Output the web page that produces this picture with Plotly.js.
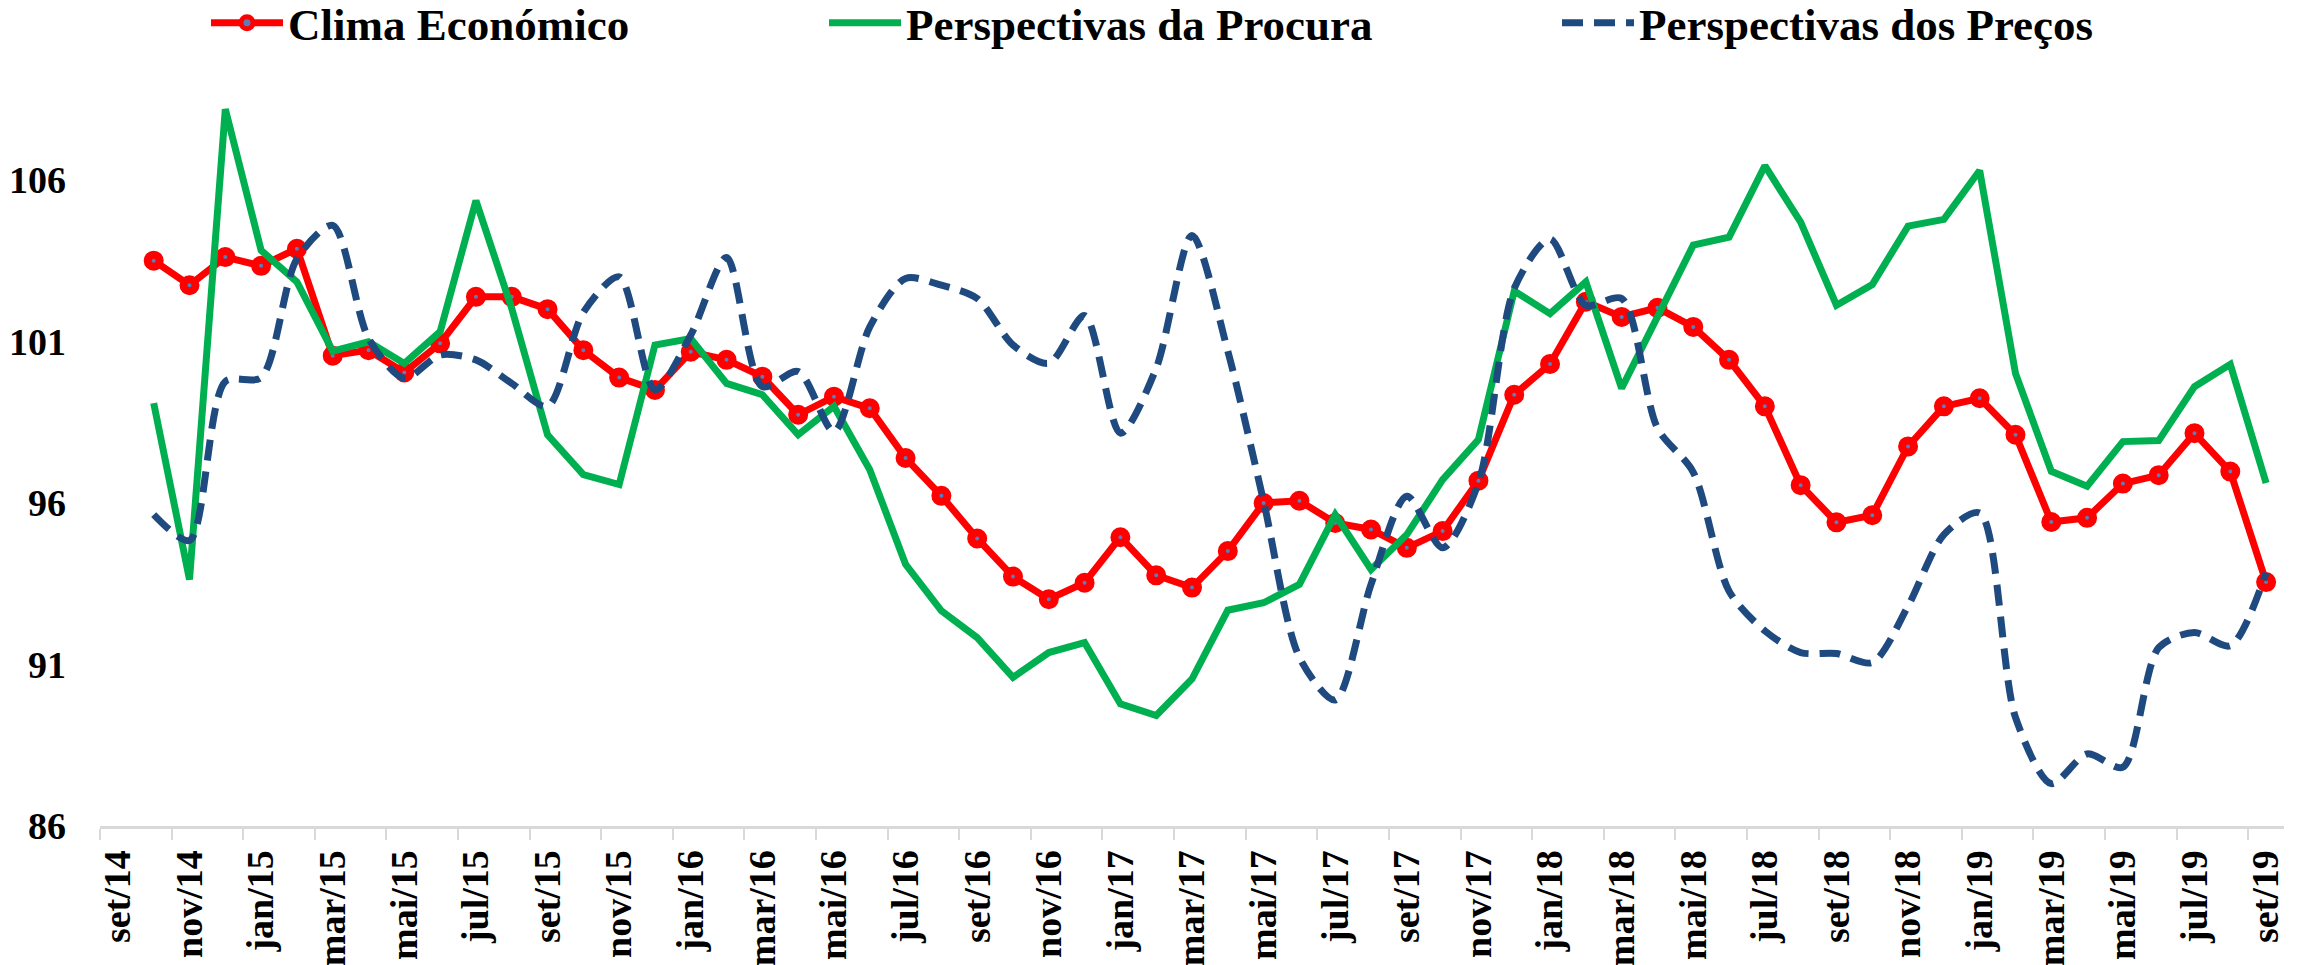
<!DOCTYPE html>
<html><head><meta charset="utf-8">
<script src="https://cdn.plot.ly/plotly-3.0.1.min.js"></script>
<style>html,body{margin:0;padding:0;background:#fff}</style>
</head><body>
<div id="chart" style="width:2310px;height:965px"></div>
<script>
const months = [
  'set/14','out/14','nov/14','dez/14',
  'jan/15','fev/15','mar/15','abr/15','mai/15','jun/15','jul/15','ago/15','set/15','out/15','nov/15','dez/15',
  'jan/16','fev/16','mar/16','abr/16','mai/16','jun/16','jul/16','ago/16','set/16','out/16','nov/16','dez/16',
  'jan/17','fev/17','mar/17','abr/17','mai/17','jun/17','jul/17','ago/17','set/17','out/17','nov/17','dez/17',
  'jan/18','fev/18','mar/18','abr/18','mai/18','jun/18','jul/18','ago/18','set/18','out/18','nov/18','dez/18',
  'jan/19','fev/19','mar/19','abr/19','mai/19','jun/19','jul/19','ago/19','set/19'
];
const climaEconomico = [null,
  103.5,102.74,103.61,103.34,103.87,100.56,100.73,100.04,100.94,102.38,
  102.38,102.0,100.73,99.88,99.5,100.68,100.43,99.91,98.73,99.29,
  98.93,97.39,96.22,94.9,93.72,93.02,93.53,94.94,93.76,93.38,
  94.51,96.0,96.07,95.38,95.18,94.61,95.13,96.69,99.35,100.3,
  102.23,101.76,102.04,101.45,100.43,98.99,96.55,95.4,95.62,97.75,
  98.99,99.24,98.11,95.41,95.54,96.6,96.86,98.16,96.97,93.55];
const perspProcura = [null,
  99.09,93.63,108.19,103.82,102.84,100.7,100.99,100.32,101.3,105.36,
  102.02,98.11,96.88,96.57,100.89,101.09,99.7,99.35,98.11,98.99,
  97.03,94.1,92.66,91.83,90.6,91.37,91.68,89.78,89.42,90.55,
  92.68,92.91,93.48,95.64,93.94,95.02,96.72,97.96,102.56,101.86,
  102.84,99.55,101.76,103.98,104.23,106.44,104.69,102.12,102.76,104.57,
  104.78,106.29,100.01,96.98,96.52,97.9,97.93,99.6,100.29,96.62];
const perspPrecos = [null,
  95.64,94.84,99.76,99.88,103.56,104.59,101.1,99.86,100.58,100.43,
  99.7,98.99,101.9,103.0,99.5,101.2,103.6,99.6,100.07,98.21,
  101.45,102.95,102.74,102.33,100.89,100.32,101.8,98.16,100.17,104.28,
  100.7,96.05,91.22,89.9,93.48,96.21,94.61,96.62,102.64,104.17,
  102.12,102.33,98.32,96.95,93.27,92.04,91.37,91.34,91.06,92.81,
  95.02,95.69,89.36,87.31,88.23,87.82,91.52,91.99,91.58,93.84];
const yTicks = [86, 91, 96, 101, 106];

const serif = 'Liberation Serif, Times New Roman, serif';
const traces = [
  {x: months, y: climaEconomico, name: 'Clima Económico', type: 'scatter', mode: 'lines+markers',
   line: {color: '#FF0000', width: 7},
   marker: {symbol: 'circle', size: 12, color: '#5B7DBA', line: {color: '#FF0000', width: 8}},
   legend: 'legend'},
  {x: months, y: perspProcura, name: 'Perspectivas da Procura', type: 'scatter', mode: 'lines',
   line: {color: '#00B050', width: 7}, legend: 'legend2'},
  {x: months, y: perspPrecos, name: 'Perspectivas dos Preços', type: 'scatter', mode: 'lines',
   line: {color: '#1F4A80', width: 7, dash: '21px,11px', shape: 'spline', smoothing: 0.8}, legend: 'legend3'}
];
const legFont = {family: serif, size: 45, weight: 'bold', color: '#000'};
function leg(px) {
  return {xref: 'container', yref: 'container', x: px / 2310, y: 1 - 23 / 965, xanchor: 'left', yanchor: 'middle',
          orientation: 'h', font: legFont, bgcolor: 'rgba(0,0,0,0)', borderwidth: 0, itemwidth: 72};
}
const layout = {
  width: 2310, height: 965,
  margin: {l: 100, r: 26, t: 82.8, b: 139.3, pad: 0},
  paper_bgcolor: '#fff', plot_bgcolor: '#fff',
  showlegend: true,
  legend: leg(206), legend2: leg(824), legend3: leg(1557),
  xaxis: {
    type: 'category', categoryorder: 'array', categoryarray: months,
    range: [-0.5, 60.5], tickmode: 'linear', tick0: 0, dtick: 2,
    tickson: 'boundaries', ticks: 'outside', ticklen: 11, tickwidth: 2, tickcolor: '#D9D9D9',
    showline: true, linecolor: '#D9D9D9', linewidth: 3,
    showgrid: false, zeroline: false, tickangle: -90, ticklabelstandoff: 6,
    tickfont: {family: serif, size: 38, weight: 'bold', color: '#000'}
  },
  yaxis: {
    range: [86, 109], tickmode: 'array', tickvals: yTicks,
    showline: false, showgrid: false, zeroline: false, ticks: '',
    ticklabelstandoff: 33,
    tickfont: {family: serif, size: 38, weight: 'bold', color: '#000'}
  }
};
Plotly.newPlot('chart', traces, layout, {staticPlot: true, displayModeBar: false});
</script>
</body></html>
